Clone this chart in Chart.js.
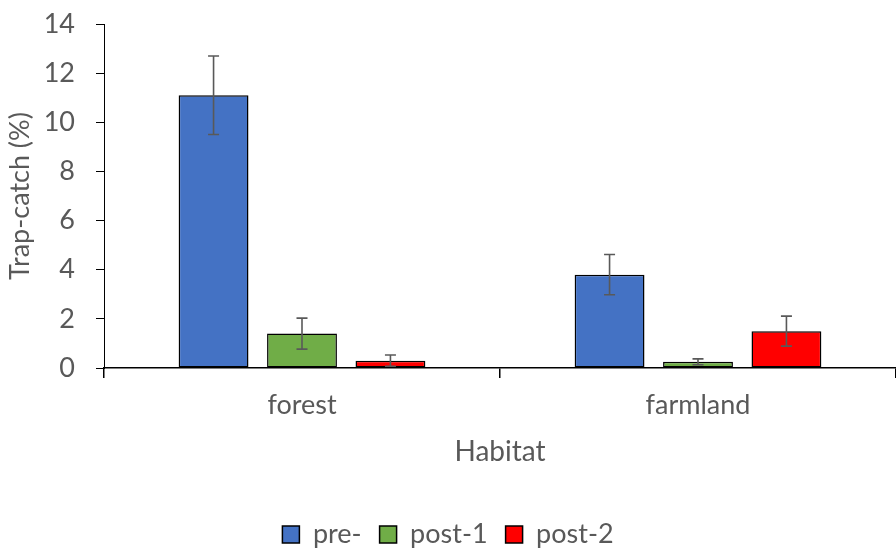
<!DOCTYPE html>
<html><head><meta charset="utf-8">
<script src="https://cdn.jsdelivr.net/npm/chart.js@4/dist/chart.umd.min.js"></script>
<style>html,body{margin:0;padding:0;background:#fff}#wrap{width:896px;height:549px}</style>
</head><body><div id="wrap"><canvas id="c"></canvas></div>
<script>
const categories = ["forest", "farmland"];
const seriesNames = ["pre-", "post-1", "post-2"];
const preValues = [11.1, 3.8];
const post1Values = [1.4, 0.25];
const post2Values = [0.3, 1.5];
const preErrors = [1.6, 0.82];
const post1Errors = [0.63, 0.12];
const post2Errors = [0.23, 0.61];
const yTicks = [0, 2, 4, 6, 8, 10, 12, 14];

const colors = ["#4472C4", "#70AD47", "#FF0000"];
const values = [preValues, post1Values, post2Values];
const errors = [preErrors, post1Errors, post2Errors];

const errorBars = {
  id: 'errorBars',
  afterDatasetsDraw(chart) {
    const ctx = chart.ctx, y = chart.scales.y;
    ctx.save();
    ctx.strokeStyle = '#595959';
    ctx.lineWidth = 1.6;
    chart.data.datasets.forEach((ds, i) => {
      const meta = chart.getDatasetMeta(i);
      meta.data.forEach((el, j) => {
        const v = ds.data[j], e = ds.errors[j];
        const yt = y.getPixelForValue(v + e), yb = y.getPixelForValue(v - e);
        const x = el.x, w = 5.5;
        ctx.beginPath();
        ctx.moveTo(x, yt); ctx.lineTo(x, yb);
        ctx.moveTo(x - w, yt); ctx.lineTo(x + w, yt);
        ctx.moveTo(x - w, yb); ctx.lineTo(x + w, yb);
        ctx.stroke();
      });
    });
    ctx.restore();
  }
};

const font = "Lato, 'Open Sans', sans-serif";
new Chart(document.getElementById('c'), {
  type: 'bar',
  data: {
    labels: categories,
    datasets: seriesNames.map((n, i) => ({
      label: n, data: values[i], errors: errors[i],
      backgroundColor: colors[i], borderColor: '#000', borderWidth: 1.5,
      borderSkipped: false,
      categoryPercentage: 0.67, barPercentage: 0.79
    }))
  },
  options: {
    responsive: true, maintainAspectRatio: false, animation: false,
    layout: { padding: { top: 0, right: 0, left: 0, bottom: -9 } },
    plugins: {
      legend: {
        position: 'bottom',
        labels: { boxWidth: 17, boxHeight: 17, padding: 18, color: '#595959',
          font: { family: font, size: 27 } }
      },
      tooltip: { enabled: false }
    },
    scales: {
      x: {
        grid: { display: true, offset: true, drawOnChartArea: false, drawTicks: true,
          tickLength: 10, color: '#000', lineWidth: 1.5 },
        border: { display: true, color: '#000', width: 1.5 },
        ticks: { color: '#595959', font: { family: font, size: 27 }, padding: 11 },
        title: { display: true, text: 'Habitat', color: '#595959',
          font: { family: font, size: 28 }, padding: { top: 3, bottom: 34 } }
      },
      y: {
        min: 0, max: 14,
        afterBuildTicks(s) { s.ticks = yTicks.map(v => ({ value: v })); },
        afterFit(s) { s.width = 104; s.paddingTop = 24; },
        grid: { display: true, drawOnChartArea: false, drawTicks: true, tickLength: 8,
          color: '#000', lineWidth: 1 },
        border: { display: true, color: '#000', width: 1 },
        ticks: { color: '#595959', font: { family: font, size: 27 }, padding: 21 },
        title: { display: true, text: 'Trap-catch (%)', color: '#595959',
          font: { family: font, size: 27, lineHeight: 1.0 }, padding: { top: 7, bottom: 0 } }
      }
    }
  },
  plugins: [errorBars]
});
</script></body></html>
